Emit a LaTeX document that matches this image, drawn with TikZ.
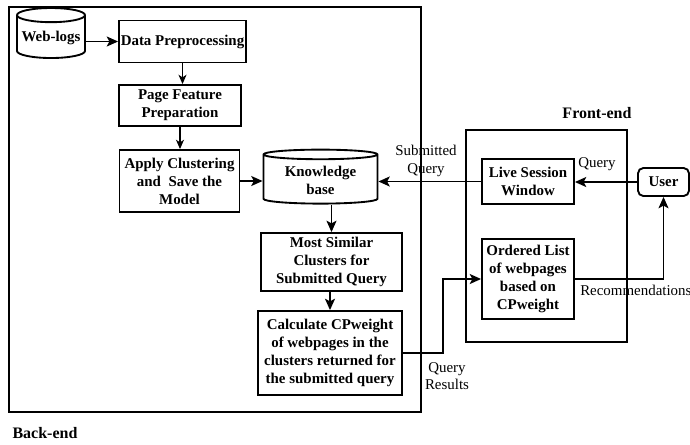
\documentclass[tikz,border=0pt]{standalone}
\usepackage{fontspec}
\setmainfont{Liberation Serif}
\usetikzlibrary{shapes.geometric,arrows.meta}

\begin{document}
\begin{tikzpicture}[x=0.75pt,y=-0.75pt,
    box/.style={draw,line width=1.4pt,align=center,inner sep=1pt,
        font=\bfseries\fontsize{11.2}{13.5}\selectfont},
    db/.style={box,cylinder,shape border rotate=90},
    lbl/.style={align=center,font=\fontsize{11.2}{13}\selectfont},
    title/.style={font=\bfseries\fontsize{12}{14}\selectfont},
    conn/.style={line width=1.4pt,-{Stealth[length=8.5pt,width=7.5pt,inset=2pt]}},
    thinconn/.style={line width=0.8pt,-{Stealth[length=7pt,width=6pt,inset=2pt]}}]
    % pixel size
    \def\px{0.75pt}
    \useasboundingbox (0,0) rectangle (690,444);

    % frames
    \draw[line width=1.4pt] (9,7) rectangle (421,412);
    \draw[line width=1.4pt] (466,130) rectangle (627,342);
    \node[title] (backlbl) at (45,433) {Back-end};
    \node[title] (frontlbl) at (597,113) {Front-end};

    % back-end
    \node[db,aspect=0.23,minimum width=68*\px,minimum height=50*\px] (logs) at (51,38) {Web-logs};
    \node[box,minimum width=127*\px,minimum height=42*\px] (prep) at (182.5,41.5) {Data Preprocessing};
    \node[box,minimum width=122*\px,minimum height=41*\px] (feat) at (180,105.5) {Page Feature\\Preparation};
    \node[box,minimum width=120*\px,minimum height=62*\px] (clus) at (179.5,181) {Apply Clustering\\and~ Save the\\Model};
    \node[db,aspect=0.13,minimum width=114*\px,minimum height=54*\px] (kb) at (320.5,180) {Knowledge\\base};
    \node[box,minimum width=141*\px,minimum height=58*\px] (simq) at (331.5,262) {Most Similar\\Clusters for\\Submitted Query};
    \node[box,minimum width=144*\px,minimum height=84*\px] (cpw) at (330,353) {Calculate CPweight\\of webpages in the\\clusters returned for\\the submitted query};

    % front-end
    \node[box,minimum width=92*\px,minimum height=45*\px] (live) at (528,181.5) {Live Session\\Window};
    \node[box,minimum width=92*\px,minimum height=80*\px] (olist) at (528,279) {Ordered List\\of webpages\\based on\\CPweight};
    \node[box,rounded corners=4pt,minimum width=51*\px,minimum height=28*\px] (user) at (663.5,182) {User};

    % connectors
    \draw[conn] (logs.east |- prep.west) -- (prep.west);
    \draw[thinconn] (prep.south) -- (prep.south |- feat.north);
    \draw[thinconn] (feat.south) -- (feat.south |- clus.north);
    \draw[conn] (clus.east) -- (kb.west |- clus.east);
    \draw[conn] (simq.north |- kb.south) -- (simq.north);
    \draw[conn] (simq.south -| cpw.north) -- (cpw.north);
    \draw[conn] (cpw.east) -- ++(40,0) |- (olist.west);
    \draw[conn] (olist.east) -| (user.south);
    \draw[conn] (user.west) -- (user.west -| live.east);
    \draw[conn] (live.west) -- (live.west -| kb.east);

    % labels
    \node[lbl] (qlbl) at (597,164) {Query};
    \node[lbl] (sublbl) at (426,161) {Submitted\\Query};
    \node[lbl] (reslbl) at (447,376) {Query\\Results};
    \node[lbl,anchor=west,inner sep=0pt] (reclbl) at (580,290) {Recommendations};
\end{tikzpicture}
\end{document}
